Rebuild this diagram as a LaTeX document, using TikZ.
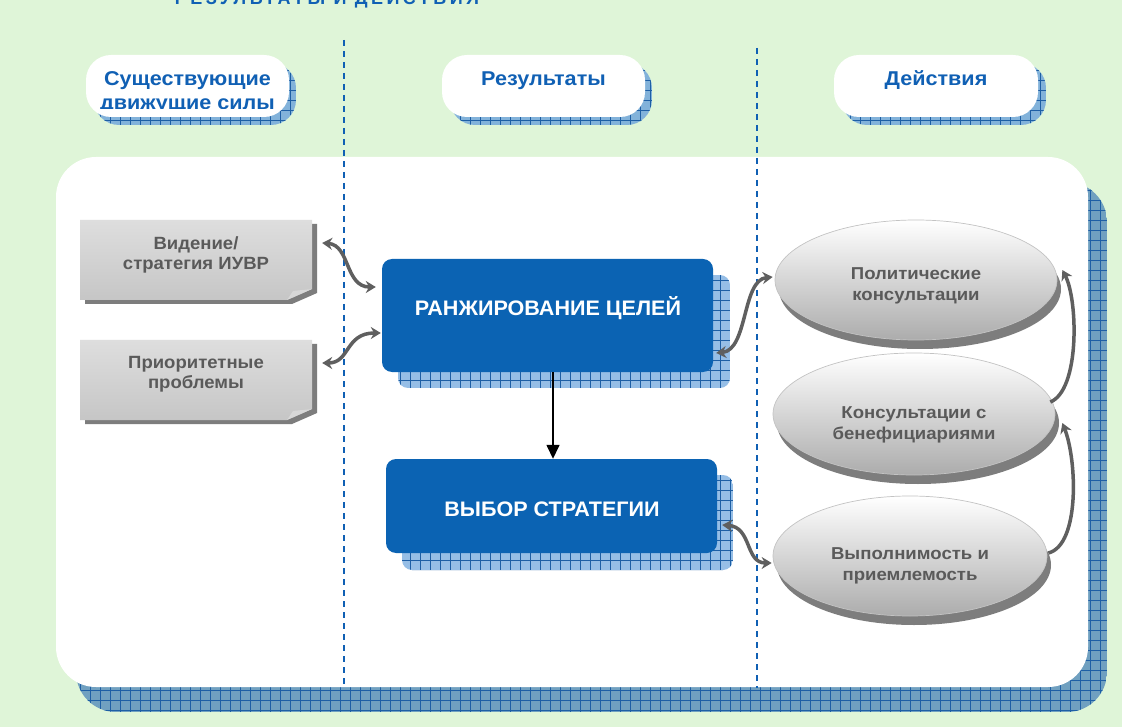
\documentclass[tikz,border=0pt]{standalone}
\usepackage{fontspec}
\setmainfont{Liberation Sans}
\newfontfamily\spacedfont[LetterSpace=19]{Liberation Sans}
\newfontfamily\hdrfont[FakeStretch=1.08]{Liberation Sans}
\newfontfamily\bluefont[FakeStretch=1.027]{Liberation Sans}
\newfontfamily\grayfont[FakeStretch=1.047]{Liberation Sans}
\newfontfamily\ellfont[FakeStretch=1.08]{Liberation Sans}
\usetikzlibrary{arrows.meta,shapes.geometric,calc}
\definecolor{bggreen}{RGB}{223,245,216}
\definecolor{hdrblue}{RGB}{16,96,180}
\definecolor{boxblue}{RGB}{11,99,179}
\definecolor{patfill}{RGB}{112,160,192}
\definecolor{patline}{RGB}{30,95,165}
\definecolor{patfilllight}{RGB}{130,178,218}
\definecolor{patfillblue}{RGB}{150,190,230}
\definecolor{conngray}{RGB}{95,95,95}
\definecolor{txtgray}{RGB}{90,90,90}
\definecolor{graytop}{RGB}{222,222,222}
\definecolor{graymid}{RGB}{245,245,245}
\definecolor{graybot}{RGB}{198,198,198}
\definecolor{grayshadow}{RGB}{125,125,125}
\definecolor{foldgray}{RGB}{215,215,215}
\definecolor{ellborder}{RGB}{195,195,195}
\definecolor{ellmid}{RGB}{232,232,232}
\definecolor{ellbottom}{RGB}{172,172,172}
\definecolor{ellshadow}{RGB}{125,125,125}
\newcommand\patbox[7]{%
  \begin{scope}
    \clip[rounded corners=#5] (#1,#2) rectangle (#3,#4);
    \fill[#6] (#1,#2) rectangle (#3,#4);
    \draw[#7, line width=0.6pt, step=10pt] (#1,#2) grid (#3,#4);
  \end{scope}}
\begin{document}
\begin{tikzpicture}[x=1pt,y=-1pt,
  titletxt/.style={font=\spacedfont\bfseries\fontsize{18}{20}\selectfont, text=hdrblue, inner sep=0pt, anchor=base},
  hdr/.style={font=\hdrfont\bfseries\fontsize{20}{23.5}\selectfont, text=hdrblue, align=center, inner sep=0pt},
  pill/.style={fill=white, rounded corners=25pt},
  bluebox/.style={rectangle, rounded corners=10pt, fill=boxblue, inner sep=0pt},
  bluetxt/.style={font=\bluefont\bfseries\fontsize{21}{24}\selectfont, text=white, inner sep=0pt, anchor=base},
  graytxt/.style={font=\grayfont\bfseries\fontsize{17.7}{20}\selectfont, text=txtgray, align=center, inner sep=0pt, minimum width=232pt},
  ell/.style={ellipse, draw=ellborder, line width=0.7pt, top color=white, middle color=ellmid, bottom color=ellbottom, inner sep=0pt},
  elltxt/.style={font=\ellfont\bfseries\fontsize{17.2}{21.5}\selectfont, text=txtgray, align=center, inner sep=0pt},
  conn/.style={draw=conngray, line width=3.5pt, {Stealth[length=10pt,width=12pt]}-{Stealth[length=10pt,width=12pt]}},
  connone/.style={draw=conngray, line width=3.5pt, -{Stealth[length=10pt,width=12pt]}},
  dashline/.style={draw=hdrblue, line width=1.8pt, dash pattern=on 6pt off 5pt},
]
\useasboundingbox (0,0) rectangle (1122,727);
\clip (0,0) rectangle (1122,727);
\fill[bggreen] (0,0) rectangle (1122,727);

% title (cut off at top)
\node[titletxt] (title) at (327,5) {РЕЗУЛЬТАТЫ И ДЕЙСТВИЯ};

% header pills
\patbox{94}{63}{296}{125}{25pt}{patfilllight}{patline}
\fill[pill] (86,55) rectangle (289,117);
\patbox{450}{63}{652}{125}{25pt}{patfilllight}{patline}
\fill[pill] (442,55) rectangle (645,117);
\patbox{842}{63}{1046}{125}{25pt}{patfilllight}{patline}
\fill[pill] (834,55) rectangle (1038,117);
\begin{scope}
  \clip (86,55) rectangle (289,109);
  \node[hdr] (h1) at (187.5,92.5) {Существующие\\движущие силы};
\end{scope}
\node[hdr, anchor=base] (h2) at (543.5,86) {Результаты};
\node[hdr, anchor=base] (h3) at (936,86) {Действия};

% main panel
\patbox{76}{182}{1107}{712}{40pt}{patfill}{patline}
\fill[white, rounded corners=40pt] (56,157) rectangle (1088,687);

% dashed column separators
\draw[dashline] (344,40) -- (344,688);
\draw[dashline] (757,48) -- (757,688);

% gray boxes
\fill[grayshadow] (85,224) -- (317,224) -- (317,293) -- (292,304) -- (85,304) -- cycle;
\shade[top color=graytop, middle color=graymid, bottom color=graybot] (80,220) -- (312,220) -- (312,289) -- (287,300) -- (80,300) -- cycle;
\fill[foldgray] (287,300) -- (293,291) -- (312,289) -- cycle;
\node[graytxt] (v1) at (196,255) {Видение/\\стратегия ИУВР};

\fill[grayshadow] (85,344) -- (317,344) -- (317,413) -- (292,424) -- (85,424) -- cycle;
\shade[top color=graytop, middle color=graymid, bottom color=graybot] (80,340) -- (312,340) -- (312,409) -- (287,420) -- (80,420) -- cycle;
\fill[foldgray] (287,420) -- (293,411) -- (312,409) -- cycle;
\node[graytxt] (v2) at (196,374) {Приоритетные\\проблемы};

% blue boxes
\patbox{398}{275}{730}{388}{10pt}{patfillblue}{patline}
\node[bluebox, minimum width=331pt, minimum height=113pt] (rank) at (547.5,315.5) {};
\node[bluetxt] (rankt) at (548,316) {РАНЖИРОВАНИЕ ЦЕЛЕЙ};
\patbox{402}{475}{733}{570}{10pt}{patfillblue}{patline}
\node[bluebox, minimum width=331pt, minimum height=94pt] (sel) at (551.5,506) {};
\node[bluetxt] (selt) at (552,516) {ВЫБОР СТРАТЕГИИ};

\draw[-{Triangle[length=14pt,width=13pt]}, line width=1.5pt] ($(rank.south)+(5.5,0)$) -- ($(sel.north)+(1.5,0)$);

% ellipses
\fill[ellshadow] (920,289) ellipse [x radius=141, y radius=60];
\node[ell, minimum width=282pt, minimum height=120pt] (e1) at (916,280) {};
\node[elltxt] (e1t) at (916,286) {Политические\\консультации};
\fill[ellshadow] (918,423) ellipse [x radius=141, y radius=61];
\node[ell, minimum width=282pt, minimum height=122pt] (e2) at (914,414) {};
\node[elltxt] (e2t) at (914,425) {Консультации с\\бенефициариями};
\fill[ellshadow] (914,565) ellipse [x radius=137, y radius=60];
\node[ell, minimum width=274pt, minimum height=120pt] (e3) at (910,556) {};
\node[elltxt] (e3t) at (910,566) {Выполнимость и\\приемлемость};

% connectors
\draw[conn] ($(v1.east)+(10,-12)$) .. controls (350,245) and (345,287) .. ($(rank.west)+(-6,-28.5)$);
\draw[conn] ($(v2.east)+(10,-11)$) .. controls (350,363) and (345,333) .. ($(rank.west)+(-1,17.5)$);
\draw[conn] ($(rank.east)+(3,37.5)$) .. controls (748,350) and (742,280) .. ($(e1.west)+(-2,-3)$);
\draw[conn] ($(sel.east)+(5,19)$) .. controls (752,527) and (745,563) .. ($(e3.west)+(-1,7)$);
\draw[connone] ($(e3.east)+(1,-3)$) .. controls (1080,545) and (1077,460) .. ($(e2.east)+(7,9)$);
\draw[connone] ($(e2.east)+(-5,-12)$) .. controls (1080,390) and (1078,300) .. ($(e1.east)+(5,-10)$);
\end{tikzpicture}
\end{document}
